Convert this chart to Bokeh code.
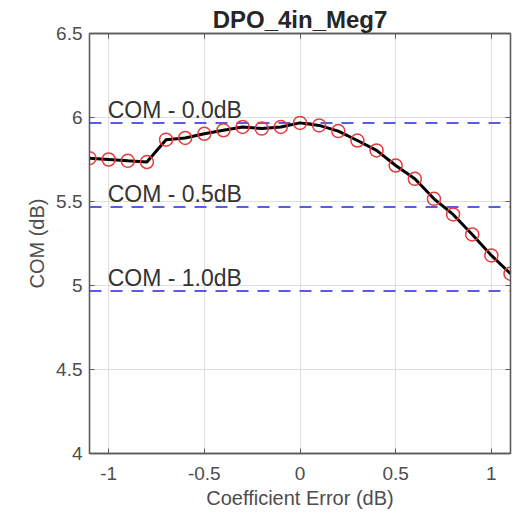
from bokeh.plotting import figure
from bokeh.models import Range1d, LinearAxis, FixedTicker, Label
from bokeh.embed import file_html
from bokeh.resources import INLINE

coef_err = [-1.1, -1.0, -0.9, -0.8, -0.7, -0.6, -0.5, -0.4, -0.3, -0.2, -0.1, 0.0,
            0.1, 0.2, 0.3, 0.4, 0.5, 0.6, 0.7, 0.8, 0.9, 1.0, 1.1]
com_db = [5.758, 5.750, 5.742, 5.735, 5.868, 5.878, 5.903, 5.924, 5.944, 5.934, 5.944, 5.968,
          5.953, 5.919, 5.863, 5.804, 5.714, 5.635, 5.516, 5.423, 5.304, 5.179, 5.070]
ref_offsets = [0.0, 0.5, 1.0]
ref_labels = ["COM - 0.0dB", "COM - 0.5dB", "COM - 1.0dB"]
x_ticks = [-1, -0.5, 0, 0.5, 1]
x_tick_labels = ["-1", "-0.5", "0", "0.5", "1"]
y_ticks = [4, 4.5, 5, 5.5, 6, 6.5]
y_tick_labels = ["4", "4.5", "5", "5.5", "6", "6.5"]

FONT = "Liberation Sans"
TICK_COLOR = "#4d4d4d"
BOX_COLOR = "#5a5a5a"

p = figure(width=518, height=516, output_backend="svg", toolbar_location=None,
           x_range=Range1d(-1.1, 1.1), y_range=Range1d(4, 6.5),
           min_border_left=89, min_border_right=8, min_border_top=33, min_border_bottom=63,
           title="DPO_4in_Meg7")
p.title.align = "center"
p.title.text_font = FONT
p.title.text_font_size = "24px"
p.title.text_font_style = "bold"
p.title.text_color = "#262626"
p.title.standoff = 1

p.outline_line_color = BOX_COLOR
p.outline_line_width = 1.3
p.background_fill_color = "white"
p.border_fill_color = "white"

for ax in (p.xaxis[0], p.yaxis[0]):
    ax.major_tick_in = 5
    ax.major_tick_out = 0
    ax.minor_tick_in = 0
    ax.minor_tick_out = 0
    ax.axis_line_color = BOX_COLOR
    ax.axis_line_width = 1.3
    ax.major_tick_line_color = BOX_COLOR
    ax.major_label_text_font = FONT
    ax.major_label_text_font_size = "19px"
    ax.major_label_text_color = TICK_COLOR
    ax.axis_label_text_font = FONT
    ax.axis_label_text_font_size = "20px"
    ax.axis_label_text_font_style = "normal"
    ax.axis_label_text_color = TICK_COLOR

p.xaxis[0].ticker = FixedTicker(ticks=x_ticks)
p.yaxis[0].ticker = FixedTicker(ticks=y_ticks)
p.xaxis[0].major_label_overrides = dict(zip(x_ticks, x_tick_labels))
p.yaxis[0].major_label_overrides = dict(zip(y_ticks, y_tick_labels))
p.xaxis[0].axis_label = "Coefficient Error (dB)"
p.yaxis[0].axis_label = "COM (dB)"
p.xaxis[0].major_label_standoff = 13
p.yaxis[0].major_label_standoff = 7
p.xaxis[0].axis_label_standoff = 4
p.yaxis[0].axis_label_standoff = 5

top_ax = LinearAxis(ticker=FixedTicker(ticks=x_ticks), major_tick_in=5, major_tick_out=0,
                    minor_tick_in=0, minor_tick_out=0, major_label_text_color=None,
                    major_label_standoff=0, axis_line_color=BOX_COLOR, axis_line_width=1.3,
                    major_tick_line_color=BOX_COLOR)
right_ax = LinearAxis(ticker=FixedTicker(ticks=y_ticks), major_tick_in=5, major_tick_out=0,
                      minor_tick_in=0, minor_tick_out=0, major_label_text_color=None,
                      major_label_standoff=0, axis_line_color=BOX_COLOR, axis_line_width=1.3,
                      major_tick_line_color=BOX_COLOR)
p.add_layout(top_ax, "above")
p.add_layout(right_ax, "right")

p.xgrid.ticker = FixedTicker(ticks=x_ticks)
p.ygrid.ticker = FixedTicker(ticks=y_ticks)
p.grid.grid_line_color = "#dedede"
p.grid.grid_line_width = 1

com_max = max(com_db)
for off, lab in zip(ref_offsets, ref_labels):
    yv = com_max - off
    p.line(x=[-1.1, 1.1], y=[yv, yv], line_color="#5a5aea", line_width=2, line_dash="12 9")
    p.add_layout(Label(x=-1.0, y=yv, text=lab, text_font=FONT, text_font_size="23px",
                       text_color="#333333", y_offset=0, x_offset=-1,
                       text_baseline="bottom"))

p.line(coef_err, com_db, line_color="black", line_width=3)
p.scatter(coef_err, com_db, marker="circle", size=13, fill_alpha=0,
          line_color="#e83a3a", line_width=1.5)

open("out.html", "w").write(file_html(p, INLINE))
